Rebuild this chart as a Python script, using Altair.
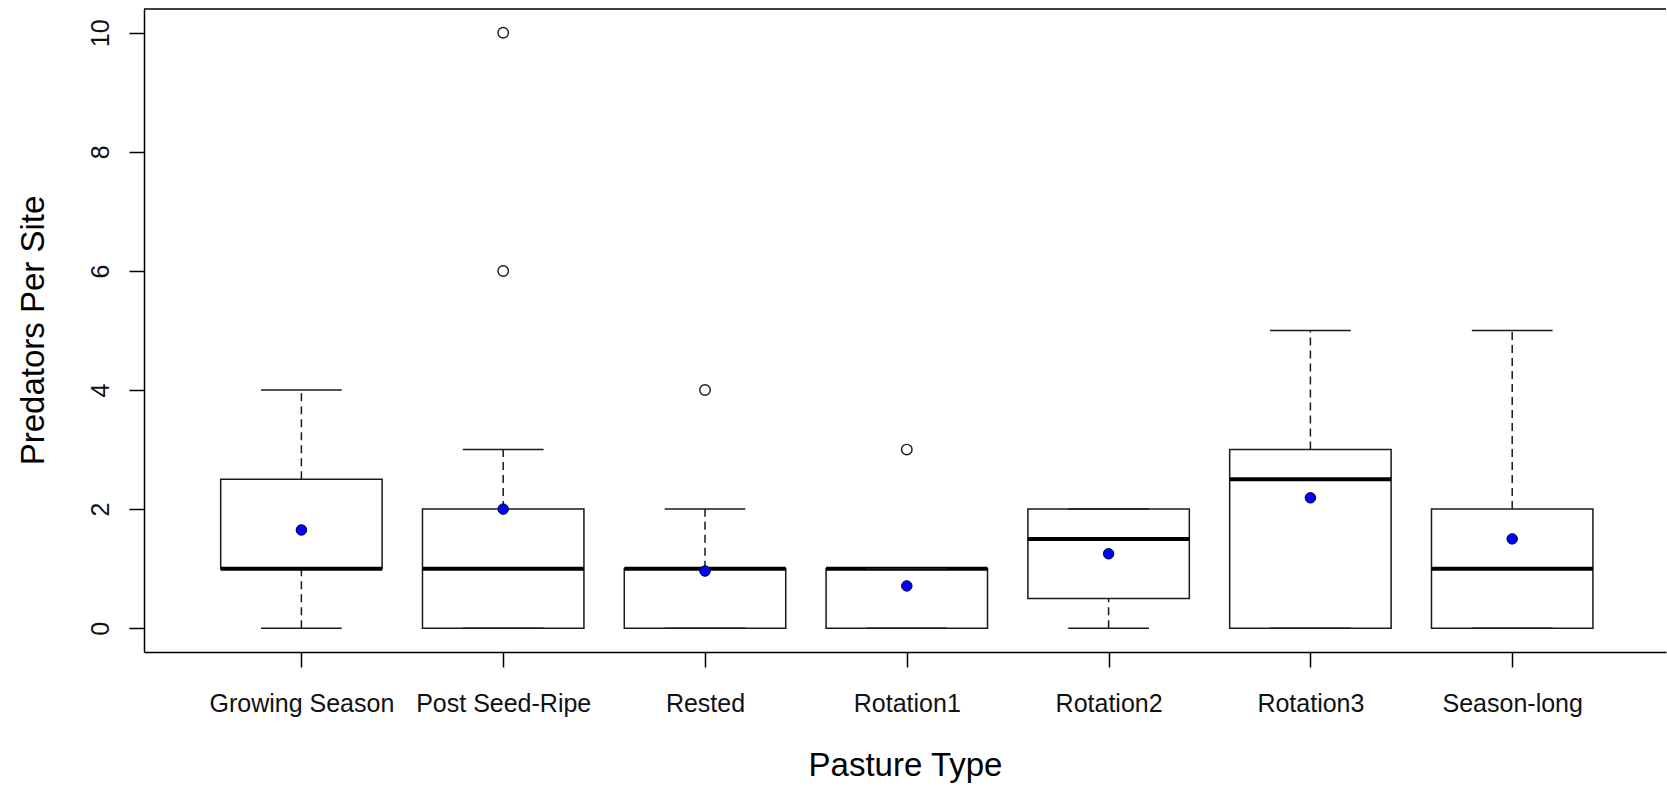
import json
import altair as alt
import pandas as pd

# ---- data ----
categories = ["Growing Season", "Post Seed-Ripe", "Rested", "Rotation1",
              "Rotation2", "Rotation3", "Season-long"]
lower_whisker = [0, 0, 0, 0, 0, 0, 0]
q1 = [1, 0, 0, 0, 0.5, 0, 0]
median = [1, 1, 1, 1, 1.5, 2.5, 1]
q3 = [2.5, 2, 1, 1, 2, 3, 2]
upper_whisker = [4, 3, 2, 1, 2, 5, 5]
means = [1.65, 2.0, 0.96, 0.71, 1.25, 2.19, 1.5]
outlier_cat = ["Post Seed-Ripe", "Post Seed-Ripe", "Rested", "Rotation1"]
outlier_val = [6, 10, 4, 3]
y_ticks = [0, 2, 4, 6, 8, 10]

# ---- tables ----
box = pd.DataFrame({
    "cat": categories,
    "pos": list(range(1, len(categories) + 1)),
    "lo": lower_whisker, "q1": q1, "med": median, "q3": q3,
    "hi": upper_whisker, "mean": means,
})
out = pd.DataFrame({"cat": outlier_cat, "val": outlier_val})
out["pos"] = [categories.index(c) + 1 for c in outlier_cat]

W, H = 1522, 643
PX_PER_UNIT = 201.8
x_lo = 0.22
x_scale = alt.Scale(domain=[x_lo, x_lo + W / PX_PER_UNIT], nice=False, zero=False)
y_scale = alt.Scale(domain=[-0.4, 10.4], nice=False, zero=False)

FONT = "Liberation Sans"
label_expr = json.dumps(categories) + "[datum.value - 1]"

common = dict(domainColor="black", domainWidth=1.5, ticks=True, tickColor="black",
              tickWidth=1.5, tickSize=15, labelFont=FONT, labelFontSize=25,
              labelColor="#111", titleColor="#000", titleFont=FONT,
              titleFontSize=33, titleFontWeight="normal", grid=False,
              labelFlush=False, labelOverlap=False, labelLimit=0)

x_axis = alt.Axis(values=list(range(1, len(categories) + 1)), labelExpr=label_expr,
                  title="Pasture Type", labelAngle=0, labelAlign="center",
                  labelBaseline="alphabetic", labelPadding=44,
                  titleBaseline="alphabetic", titleY=123, **common)
y_axis = alt.Axis(values=y_ticks, format="d", title="Predators Per Site",
                  labelAngle=270, labelAlign="center", labelBaseline="alphabetic",
                  labelPadding=21, titleAngle=270, titleAlign="center",
                  titleBaseline="alphabetic", titleX=-101, titleY=321, **common)

base = alt.Chart(box).transform_calculate(
    left="datum.pos - 0.4", right="datum.pos + 0.4",
    capl="datum.pos - 0.2", capr="datum.pos + 0.2",
)

LINE = "#1a1a1a"

whisk_up = base.mark_rule(color=LINE, strokeWidth=1.5, strokeDash=[8, 5]).encode(
    x=alt.X("pos:Q", scale=x_scale, axis=x_axis),
    y=alt.Y("q3:Q", scale=y_scale, axis=y_axis),
    y2="hi:Q",
)
whisk_dn = base.mark_rule(color=LINE, strokeWidth=1.5, strokeDash=[8, 5]).encode(
    x=alt.X("pos:Q", scale=x_scale), y=alt.Y("lo:Q", scale=y_scale), y2="q1:Q",
)
cap_up = base.mark_rule(color=LINE, strokeWidth=1.5).encode(
    x=alt.X("capl:Q", scale=x_scale), x2="capr:Q", y=alt.Y("hi:Q", scale=y_scale),
)
cap_dn = base.mark_rule(color=LINE, strokeWidth=1.5).encode(
    x=alt.X("capl:Q", scale=x_scale), x2="capr:Q", y=alt.Y("lo:Q", scale=y_scale),
)
rect = base.mark_rect(fill="white", stroke=LINE, strokeWidth=1.5).encode(
    x=alt.X("left:Q", scale=x_scale), x2="right:Q",
    y=alt.Y("q1:Q", scale=y_scale), y2="q3:Q",
)
med = base.mark_rule(color="black", strokeWidth=4).encode(
    x=alt.X("left:Q", scale=x_scale), x2="right:Q", y=alt.Y("med:Q", scale=y_scale),
)
mean_pts = base.mark_point(shape="circle", filled=True, size=110, color="#0000ff",
                           stroke="#000033", strokeWidth=1, opacity=1).encode(
    x=alt.X("pos:Q", scale=x_scale), y=alt.Y("mean:Q", scale=y_scale),
)
out_pts = alt.Chart(out).mark_point(shape="circle", filled=False, size=110,
                                    color=LINE, strokeWidth=1.4, opacity=1).encode(
    x=alt.X("pos:Q", scale=x_scale), y=alt.Y("val:Q", scale=y_scale),
)
top_border = alt.Chart(pd.DataFrame({"k": [0]})).mark_rule(color="black", strokeWidth=1.5).encode(
    x=alt.value(0), x2=alt.value(W), y=alt.value(0),
)

chart = alt.layer(
    whisk_up, whisk_dn, rect, med, cap_up, cap_dn, out_pts, mean_pts, top_border
).properties(
    width=W, height=H,
    autosize=alt.AutoSizeParams(type="none"),
    padding={"left": 144, "top": 9, "right": 1, "bottom": 134},
    background="white",
).configure_view(stroke=None)

chart.save("out.html", embed_options={"renderer": "svg", "actions": False})
